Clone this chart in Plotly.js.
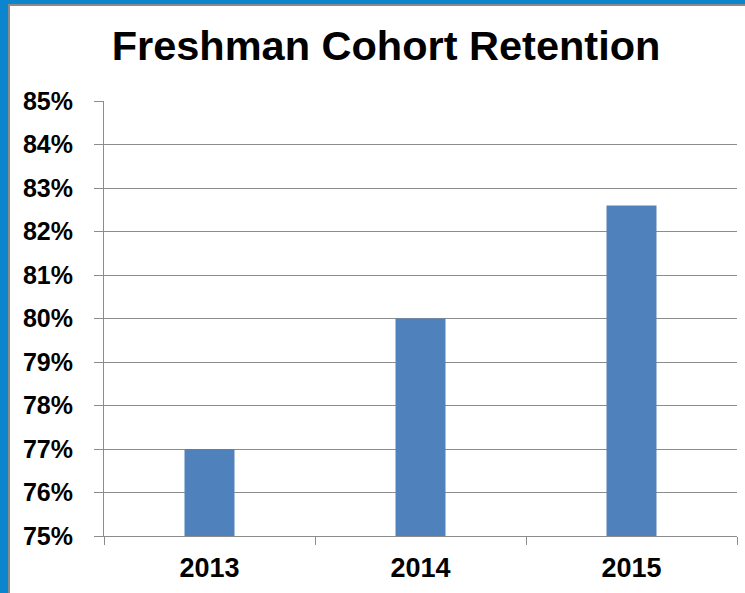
<!DOCTYPE html>
<html>
<head>
<meta charset="utf-8">
<script src="https://cdn.plot.ly/plotly-3.0.1.min.js"></script>
<style>
  html, body { margin: 0; padding: 0; width: 745px; height: 593px; overflow: hidden; background: #0a85ce; }
  #frame { position: absolute; left: 8px; top: 4px; width: 737px; height: 589px; box-sizing: border-box;
           border-left: 2px solid #8a8a8a; border-top: 2px solid #8a8a8a; background: #fff; }
  #chart { position: absolute; left: 0; top: 0; width: 735px; height: 587px; }
</style>
</head>
<body>
<div id="frame"><div id="chart"></div></div>
<script>
const years = ['2013', '2014', '2015'];
const retention = [0.77, 0.80, 0.826];
const yTickVals = [0.75, 0.76, 0.77, 0.78, 0.79, 0.80, 0.81, 0.82, 0.83, 0.84, 0.85];

const FONT = '"Liberation Sans", Arial, sans-serif';
const GRAY = '#8c8c8c';

const trace = {
  type: 'bar',
  x: years,
  y: retention,
  marker: { color: '#4f81bd', line: { width: 0 } },
  hoverinfo: 'x+y'
};

const layout = {
  width: 735,
  height: 587,
  paper_bgcolor: '#ffffff',
  plot_bgcolor: '#ffffff',
  margin: { l: 94, r: 8, t: 95, b: 57 },
  bargap: 0.763,
  showlegend: false,
  title: {
    text: '<b>Freshman Cohort Retention</b>',
    font: { family: FONT, size: 41.5, color: '#000000' },
    xref: 'container', x: 0.5116, xanchor: 'center',
    yref: 'container', y: 0.932, yanchor: 'middle'
  },
  xaxis: {
    type: 'category',
    tickson: 'boundaries',
    ticks: 'outside',
    ticklen: 8,
    tickcolor: GRAY,
    tickwidth: 1,
    showline: true,
    linecolor: GRAY,
    linewidth: 1,
    showgrid: false,
    ticklabelstandoff: 8,
    tickfont: { family: FONT, size: 27, color: '#000000', weight: 'bold' }
  },
  yaxis: {
    range: [0.75, 0.85],
    tickvals: yTickVals,
    tickformat: '.0%',
    ticks: 'outside',
    ticklen: 9,
    tickcolor: GRAY,
    showline: true,
    linecolor: GRAY,
    linewidth: 1,
    showgrid: true,
    gridcolor: GRAY,
    gridwidth: 1,
    zeroline: false,
    ticklabelstandoff: 16,
    tickfont: { family: FONT, size: 25, color: '#000000', weight: 'bold' }
  }
};

Plotly.newPlot('chart', [trace], layout, { displayModeBar: false, staticPlot: true });
</script>
</body>
</html>
